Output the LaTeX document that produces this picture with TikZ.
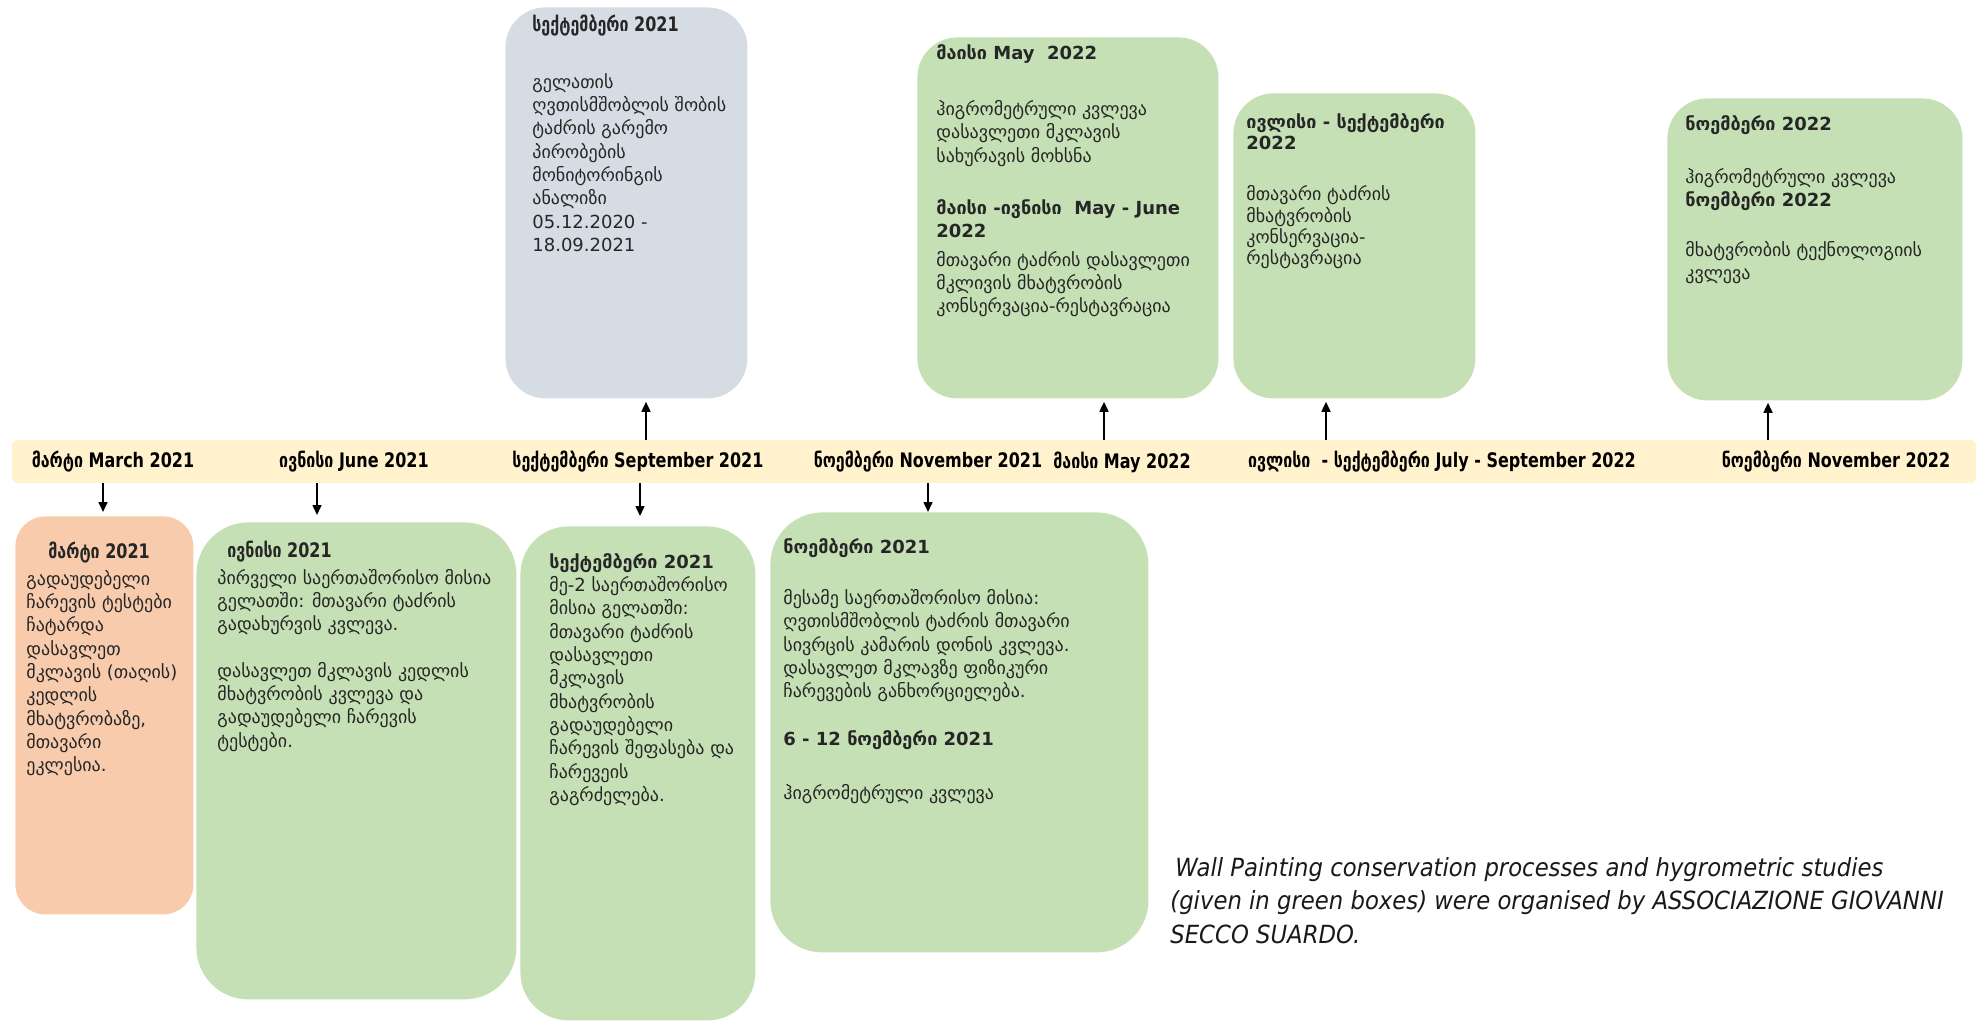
\documentclass[tikz,border=0pt]{standalone}
\usepackage{fontspec}
\setmainfont{DejaVu Sans}
\newfontfamily\narrowfont[FakeStretch=0.8]{DejaVu Sans}
\newfontfamily\notefont[FakeStretch=0.91]{DejaVu Sans}
\usepackage{tikz}
\usetikzlibrary{positioning,arrows.meta}

\definecolor{bandyellow}{HTML}{FFF2CC}
\definecolor{peach}{HTML}{F8CBAD}
\definecolor{sage}{HTML}{C5E0B4}
\definecolor{slate}{HTML}{D6DCE4}

\begin{document}
\begin{tikzpicture}[
        x=0.5pt, y=-0.5pt,
        >={Triangle[length=5pt,width=4.5pt]},
        band/.style={
            rectangle,
            rounded corners=3pt,
            fill=bandyellow,
            inner sep=0pt,
            minimum width=982pt,
            minimum height=21.5pt
        },
        when/.style={
            inner sep=0pt,
            font=\narrowfont\bfseries\fontsize{10}{11}\selectfont
        },
        card/.style={
            rectangle,
            rounded corners=20pt,
            fill=#1,
            anchor=north west,
            inner sep=0pt
        },
        body/.style={
            anchor=north west,
            inner sep=0pt,
            align=left,
            text=black!85,
            font=\fontsize{9}{11.65}\selectfont
        },
        note/.style={
            anchor=north west,
            inner sep=0pt,
            align=left,
            text=black!90,
            font=\notefont\itshape\fontsize{12.5}{16.7}\selectfont
        },
        flow/.style={->, line width=0.8pt, draw=black}
    ]

        \useasboundingbox (0,0) rectangle (1979,1021);

        % Timeline band
        \node[band] (band) at (994,461.5) {};

        \node[when] (tMar) at (113,462) {მარტი March 2021};
        \node[when] (tJun) at (354,462) {ივნისი June 2021};
        \node[when] (tSep) at (638,462) {სექტემბერი September 2021};
        \node[when] (tNov) at (928,462) {ნოემბერი November 2021};
        \node[when] (tMay) at (1122,462) {მაისი May 2022};
        \node[when] (tJul) at (1442,462) {ივლისი~~- სექტემბერი July - September 2022};
        \node[when] (tNv2) at (1836,462) {ნოემბერი November 2022};

        % Cards below the band
        \node[card=peach, rounded corners=15pt, minimum width=89pt, minimum height=199pt] (mar) at (15,516) {};
        \node[card=sage, rounded corners=26pt, minimum width=160pt, minimum height=238.5pt] (jun) at (196,522) {};
        \node[card=sage, rounded corners=24pt, minimum width=117.5pt, minimum height=247pt] (sepB) at (520,526) {};
        \node[card=sage, rounded corners=26pt, minimum width=189pt, minimum height=220pt] (nov) at (770,512) {};

        % Cards above the band
        \node[card=slate, minimum width=121pt, minimum height=195.5pt] (sepT) at (505,7) {};
        \node[card=sage, minimum width=150.5pt, minimum height=180.5pt] (may) at (917,37) {};
        \node[card=sage, minimum width=121pt, minimum height=152.5pt] (jul) at (1233,93) {};
        \node[card=sage, minimum width=147.5pt, minimum height=151pt] (nv2) at (1667,98) {};

        % Card texts
        \node[body] (marTxt) at (26,542)
            {\hspace*{11pt}{\narrowfont\bfseries\fontsize{10}{11.65}\selectfont მარტი 2021}\\[1.5pt]
             გადაუდებელი\\
             ჩარევის ტესტები\\
             ჩატარდა\\
             დასავლეთ\\
             მკლავის (თაღის)\\
             კედლის\\
             მხატვრობაზე,\\
             მთავარი\\
             ეკლესია.};

        \node[body] (junTxt) at (217,541)
            {\hspace*{5pt}{\narrowfont\bfseries\fontsize{10}{11.65}\selectfont ივნისი 2021}\\[1.5pt]
             პირველი საერთაშორისო მისია\\
             გელათში: მთავარი ტაძრის\\
             გადახურვის კვლევა.\\[11.65pt]
             დასავლეთ მკლავის კედლის\\
             მხატვრობის კვლევა და\\
             გადაუდებელი ჩარევის\\
             ტესტები.};

        \node[body] (sepBTxt) at (549,553)
            {{\bfseries სექტემბერი 2021}\\
             მე-2 საერთაშორისო\\
             მისია გელათში:\\
             მთავარი ტაძრის\\
             დასავლეთი\\
             მკლავის\\
             მხატვრობის\\
             გადაუდებელი\\
             ჩარევის შეფასება და\\
             ჩარევეის\\
             გაგრძელება.};

        \node[body] (novTxt) at (783,538)
            {{\bfseries ნოემბერი 2021}\\[14pt]
             მესამე საერთაშორისო მისია:\\
             ღვთისმშობლის ტაძრის მთავარი\\
             სივრცის კამარის დონის კვლევა.\\
             დასავლეთ მკლავზე ფიზიკური\\
             ჩარევების განხორციელება.\\[12pt]
             {\bfseries 6 - 12 ნოემბერი 2021}\\[15.5pt]
             ჰიგრომეტრული კვლევა};

        \node[body] (sepTTxt) at (532,15)
            {{\narrowfont\bfseries\fontsize{10}{11.65}\selectfont სექტემბერი 2021}\\[16.5pt]
             გელათის\\
             ღვთისმშობლის შობის\\
             ტაძრის გარემო\\
             პირობების\\
             მონიტორინგის\\
             ანალიზი\\
             05.12.2020 -\\
             18.09.2021};

        \node[body] (mayTxt) at (936,44)
            {{\bfseries მაისი May~~2022}\\[16.5pt]
             ჰიგრომეტრული კვლევა\\
             დასავლეთი მკლავის\\
             სახურავის მოხსნა\\[14.5pt]
             {\bfseries მაისი -ივნისი~~May - June}\\
             {\bfseries 2022}\\[2.5pt]
             მთავარი ტაძრის დასავლეთი\\
             მკლივის მხატვრობის\\
             კონსერვაცია-რესტავრაცია};

        \node[body] (julTxt) at (1246,113)
            {{\bfseries ივლისი - სექტემბერი}\\[-1pt]
             {\bfseries 2022}\\[14pt]
             მთავარი ტაძრის\\[-1pt]
             მხატვრობის\\[-1pt]
             კონსერვაცია-\\[-1pt]
             რესტავრაცია};

        \node[body] (nv2Txt) at (1685,115)
            {{\bfseries ნოემბერი 2022}\\[15pt]
             ჰიგრომეტრული კვლევა\\
             {\bfseries ნოემბერი 2022}\\[13pt]
             მხატვრობის ტექნოლოგიის\\
             კვლევა};

        % Arrows from the band
        \coordinate (xMar) at (103,0);
        \coordinate (xJun) at (317,0);
        \coordinate (xSepB) at (640,0);
        \coordinate (xNov) at (928,0);
        \coordinate (xSepT) at (646,0);
        \coordinate (xMay) at (1104,0);
        \coordinate (xJul) at (1326,0);
        \coordinate (xNv2) at (1768,0);

        \draw[flow, shorten >=2pt] (band.south -| xMar) -- (mar.north -| xMar);
        \draw[flow, shorten >=3.5pt] (band.south -| xJun) -- (jun.north -| xJun);
        \draw[flow, shorten >=5pt] (band.south -| xSepB) -- (sepB.north -| xSepB);
        \draw[flow, shorten >=0pt] (band.south -| xNov) -- (nov.north -| xNov);

        \draw[flow, shorten >=1.5pt] (band.north -| xSepT) -- (sepT.south -| xSepT);
        \draw[flow, shorten >=1.5pt] (band.north -| xMay) -- (may.south -| xMay);
        \draw[flow, shorten >=1.5pt] (band.north -| xJul) -- (jul.south -| xJul);
        \draw[flow, shorten >=1pt] (band.north -| xNv2) -- (nv2.south -| xNv2);

        % Note
        \node[note] (credit) at (1170,857)
            {\hspace*{2.5pt}Wall Painting conservation processes and hygrometric studies\\
             (given in green boxes) were organised by ASSOCIAZIONE GIOVANNI\\
             SECCO SUARDO.};

    \end{tikzpicture}
\end{document}
